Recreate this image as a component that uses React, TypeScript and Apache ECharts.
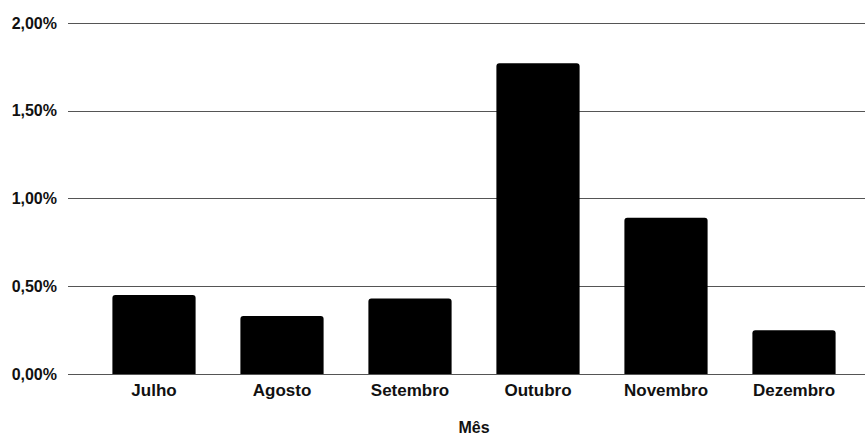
import React, { useEffect, useRef } from "react";
import * as echarts from "echarts";

const months = ["Julho", "Agosto", "Setembro", "Outubro", "Novembro", "Dezembro"];
const values = [0.45, 0.33, 0.43, 1.77, 0.89, 0.25];
const yTicks = [0, 0.5, 1, 1.5, 2];
const axisTitle = "Mês";

const FONT = "'Liberation Sans', Arial, Helvetica, sans-serif";

export default function App() {
  const ref = useRef<HTMLDivElement>(null);
  useEffect(() => {
    if (!ref.current) return;
    const chart = echarts.init(ref.current, undefined, { renderer: "svg" });
    const fmt = (v: number) => v.toFixed(2).replace(".", ",") + "%";
    chart.setOption({
      animation: false,
      backgroundColor: "#ffffff",
      grid: [
        { left: 68, right: 0, top: 23, bottom: 64, outerBoundsMode: "none", containLabel: false },
        { left: 90, right: 7, top: 23, bottom: 64, outerBoundsMode: "none", containLabel: false },
      ],
      xAxis: [
        { type: "category", gridIndex: 0, data: months, show: false },
        {
          type: "category",
          gridIndex: 1,
          data: months,
          axisTick: { show: false },
          axisLine: { show: false },
          axisLabel: { color: "#111", fontFamily: FONT, fontWeight: "bold", fontSize: 17, margin: 8 },
          name: axisTitle,
          nameLocation: "middle",
          nameGap: 45,
          nameTextStyle: { color: "#111", fontFamily: FONT, fontWeight: "bold", fontSize: 16, lineHeight: 16 },
        },
      ],
      yAxis: [
        {
          type: "value",
          gridIndex: 0,
          min: yTicks[0],
          max: yTicks[yTicks.length - 1],
          interval: 0.5,
          axisLine: { show: false },
          axisTick: { show: false },
          splitLine: { lineStyle: { color: "#555", width: 1 } },
          axisLabel: { formatter: fmt, color: "#111", fontFamily: FONT, fontWeight: "bold", fontSize: 16, margin: 11 },
        },
        {
          type: "value",
          gridIndex: 1,
          min: yTicks[0],
          max: yTicks[yTicks.length - 1],
          interval: 0.5,
          show: false,
        },
      ],
      series: [
        {
          type: "bar",
          xAxisIndex: 1,
          yAxisIndex: 1,
          data: values,
          barWidth: "65%",
          itemStyle: { color: "#000", borderRadius: [3, 3, 0, 0] },
        },
      ],
    });
    return () => chart.dispose();
  }, []);
  return <div ref={ref} style={{ width: 865, height: 438, position: "absolute", left: 0, top: 0 }} />;
}
